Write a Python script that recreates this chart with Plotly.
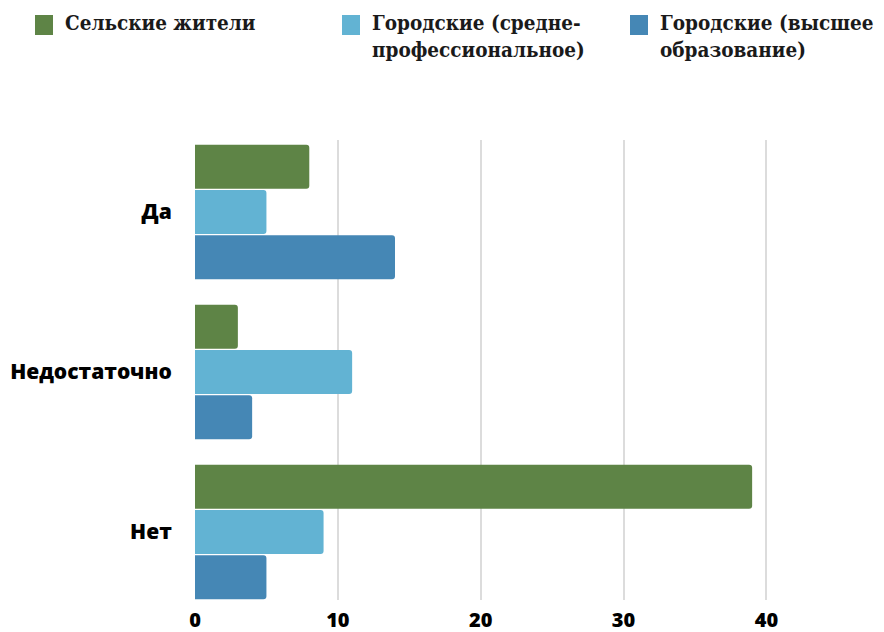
import plotly.graph_objects as go

# Survey answers (categories) and counts per respondent group
categories = ["Да", "Недостаточно", "Нет"]
series_names = [
    "Сельские жители",
    "Городские (средне-<br>профессиональное)",
    "Городские (высшее<br>образование)",
]
rural = [8, 3, 39]
urban_vocational = [5, 11, 9]
urban_higher = [14, 4, 5]
x_ticks = [0, 10, 20, 30, 40]

colors = ["#5E8446", "#62B3D3", "#4587B5"]
values = [rural, urban_vocational, urban_higher]

W, H = 884, 632
M_L, M_R, M_T, M_B = 195, 89, 140, 32
plot_w = W - M_L - M_R
plot_h = H - M_T - M_B

fig = go.Figure()
for name, vals, col in zip(series_names, values, colors):
    fig.add_trace(go.Bar(
        y=categories, x=vals, name=name, orientation="h",
        marker=dict(color=col, line=dict(width=0)),
        showlegend=False, hoverinfo="x+y",
    ))

# Custom legend: swatches and labels placed above the plot
def px_x(px):
    return (px - M_L) / plot_w

def px_y(py):
    return (H - M_B - py) / plot_h

legend_x = [35, 342, 630]
shapes = []
annotations = []
for lx, name, col in zip(legend_x, series_names, colors):
    shapes.append(dict(
        type="rect", xref="paper", yref="paper",
        x0=px_x(lx), x1=px_x(lx + 18), y0=px_y(15), y1=px_y(35),
        fillcolor=col, line=dict(width=0),
    ))
    annotations.append(dict(
        xref="paper", yref="paper", x=px_x(lx + 28), y=px_y(9),
        xanchor="left", yanchor="top", align="left", showarrow=False,
        text=name,
        font=dict(family="DejaVu Serif Condensed", size=20.5, color="#1a1a1a",
                  weight="bold"),
    ))

fig.update_layout(
    width=W, height=H,
    margin=dict(l=M_L, r=M_R, t=M_T, b=M_B, autoexpand=False),
    paper_bgcolor="white", plot_bgcolor="white",
    barmode="group", bargap=0.15, bargroupgap=0.03,
    barcornerradius=3,
    shapes=shapes, annotations=annotations,
    xaxis=dict(
        range=[0, 42], tickvals=x_ticks, ticktext=[str(v) for v in x_ticks],
        showgrid=True, gridcolor="#dcdcdc", gridwidth=1.5, zeroline=False,
        showline=False, ticks="outside", ticklen=2, tickcolor="rgba(0,0,0,0)",
        tickfont=dict(family="Open Sans", size=20, color="#000000", weight=800),
    ),
    yaxis=dict(
        categoryorder="array", categoryarray=categories,
        range=[2.425, -0.45], showgrid=False, zeroline=False, showline=False,
        ticks="outside", ticklen=18, tickcolor="rgba(0,0,0,0)",
        tickfont=dict(family="Open Sans", size=21, color="#000000", weight=800),
    ),
)

fig.write_html("out.html")
